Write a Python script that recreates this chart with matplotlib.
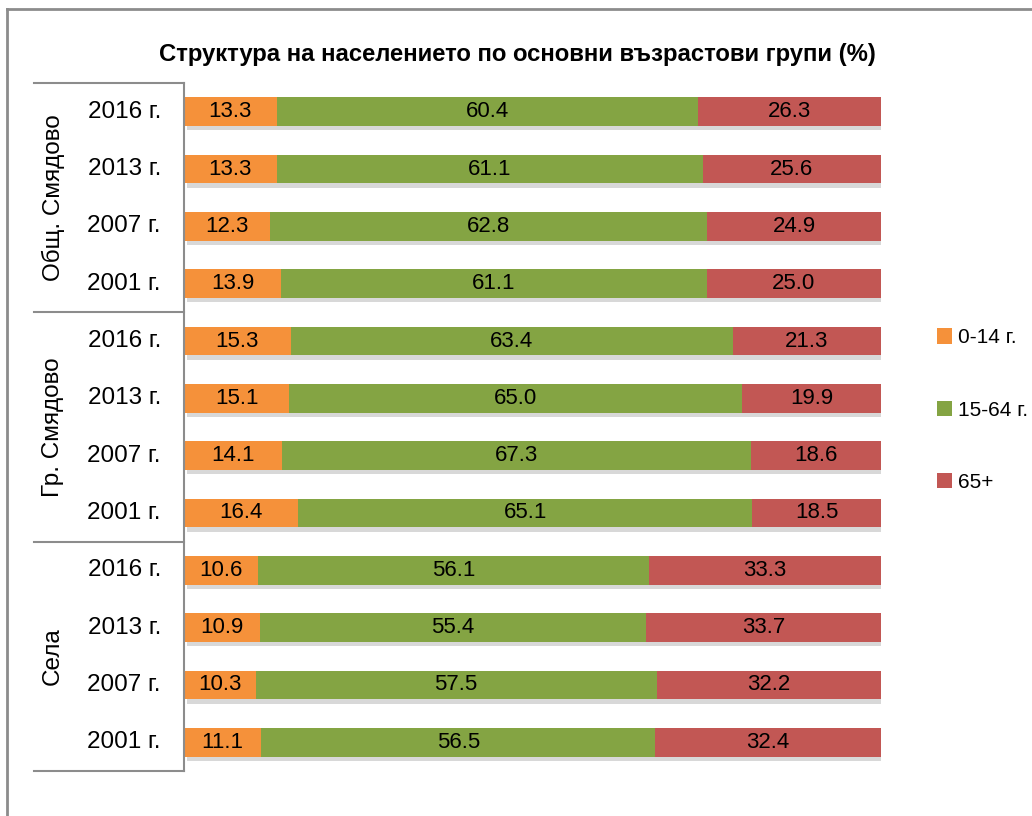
import matplotlib
matplotlib.use("Agg")
import matplotlib.pyplot as plt
import matplotlib.patheffects as pe
from matplotlib.lines import Line2D
from matplotlib.patches import Patch
import numpy as np

plt.rcParams['font.family'] = ['Liberation Sans', 'DejaVu Sans']

# данни
groups = ["Общ. Смядово", "Гр. Смядово", "Села"]
years = ["2016 г.", "2013 г.", "2007 г.", "2001 г."]
series_names = ["0-14 г.", "15-64 г.", "65+"]
age_0_14 = [13.3, 13.3, 12.3, 13.9, 15.3, 15.1, 14.1, 16.4, 10.6, 10.9, 10.3, 11.1]
age_15_64 = [60.4, 61.1, 62.8, 61.1, 63.4, 65.0, 67.3, 65.1, 56.1, 55.4, 57.5, 56.5]
age_65 = [26.3, 25.6, 24.9, 25.0, 21.3, 19.9, 18.6, 18.5, 33.3, 33.7, 32.2, 32.4]
colors = ["#F5913A", "#84A443", "#C25754"]

W, H = 1032, 816
fig = plt.figure(figsize=(W / 100, H / 100), dpi=100)
ax = fig.add_axes([184 / W, 45 / H, 697 / W, 688 / H])

n = len(age_0_14)
ypos = np.arange(n)
shadow = [pe.SimplePatchShadow(offset=(2, -3), shadow_rgbFace="#aaaaaa", alpha=0.45), pe.Normal()]

left = np.zeros(n)
for vals, col in zip([age_0_14, age_15_64, age_65], colors):
    bars = ax.barh(ypos, vals, left=left, height=0.5, color=col, zorder=2)
    for b in bars:
        b.set_path_effects(shadow)
    for y, v, l in zip(ypos, vals, left):
        ax.text(l + v / 2, y, f"{v:.1f}", ha="center", va="center", fontsize=16, zorder=3)
    left = left + np.array(vals)

ax.set_xlim(0, 100)
ax.set_ylim(n - 0.5, -0.5)
ax.set_xticks([])
ax.set_yticks([])
for s in ax.spines.values():
    s.set_visible(False)

# етикети на години
for i in range(n):
    ax.text(-0.033, i, years[i % 4], transform=ax.get_yaxis_transform(),
            ha="right", va="center", fontsize=17.5)

# групи и разделителни линии
gx0 = -(184 - 34) / 697
line_kw = dict(color="#8c8c8c", lw=1.5, transform=ax.get_yaxis_transform(), clip_on=False)
ax.add_line(Line2D([0, 0], [-0.5, n - 0.5], **line_kw))
for k in range(len(groups) + 1):
    yb = k * 4 - 0.5
    ax.add_line(Line2D([gx0, 0], [yb, yb], **line_kw))
for k, g in enumerate(groups):
    ax.text(-(184 - 53) / 697, k * 4 + 1.5, g, transform=ax.get_yaxis_transform(),
            rotation=90, ha="center", va="center", fontsize=17.5)

fig.suptitle("Структура на населението по основни възрастови групи (%)",
             x=517 / W, y=1 - 55 / H, va="center", fontsize=17.2, fontweight="bold")

handles = [Patch(facecolor=c, edgecolor="none") for c in colors]
ax.legend(handles, series_names, loc="center left", bbox_to_anchor=(918 / W, 406 / H),
          bbox_transform=fig.transFigure, frameon=False, fontsize=15,
          handlelength=0.75, handleheight=0.75, handletextpad=0.25, labelspacing=2.55)

# рамка
fig.add_artist(Line2D([7 / W, 7 / W], [0, 1 - 9 / H], color="#8c8c8c", lw=2))
fig.add_artist(Line2D([7 / W, 1], [1 - 9 / H, 1 - 9 / H], color="#8c8c8c", lw=2))

fig.savefig("out.png", dpi=100)
